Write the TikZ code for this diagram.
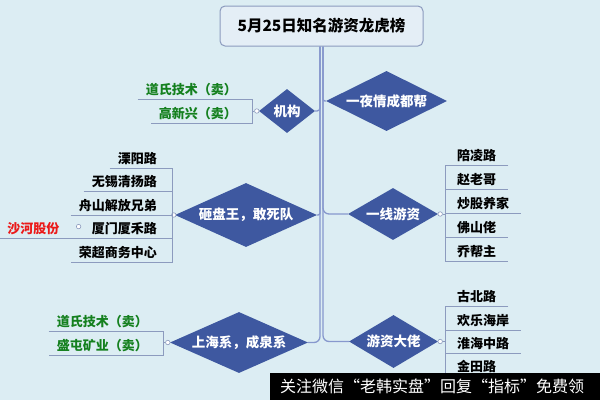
\documentclass[tikz,border=0pt]{standalone}
\usepackage{fontspec}
\setmainfont{Noto Sans CJK SC}
\usepackage{tikz}
\usetikzlibrary{shapes.geometric,positioning}
\definecolor{bgc}{RGB}{220,237,243}
\definecolor{headfill}{RGB}{228,238,246}
\definecolor{rim}{RGB}{140,155,190}
\definecolor{stem}{RGB}{135,152,205}
\definecolor{diafill}{RGB}{62,88,160}
\definecolor{sell}{RGB}{20,128,30}
\definecolor{hot}{RGB}{235,25,25}
\tikzset{
  head/.style={draw=rim,fill=headfill,rounded corners=5pt,line width=1pt,
    minimum width=203pt,minimum height=40pt,font=\bfseries\fontsize{15.5}{16}\selectfont},
  dia/.style={diamond,fill=diafill,text=white,inner sep=0pt,shape aspect=2.2,
    font=\bfseries\fontsize{13.5}{14}\selectfont},
  kid/.style={font=\bfseries\fontsize{13}{14}\selectfont,inner xsep=8pt,inner ysep=4.4pt,
    text height=14.7pt,text depth=0pt},
  rkid/.style={kid,anchor=south west,inner xsep=12pt},
  lkid/.style={kid,anchor=south east,execute at end node={\hspace*{7pt}}},
  stemline/.style={draw=stem,line width=1.3pt,rounded corners=6pt},
  twig/.style={draw=rim,line width=0.9pt},
  knob/.style={circle,draw=rim,fill=white,line width=0.6pt,inner sep=0pt,minimum size=4.5pt},
  wm/.style={fill=black,text=white,anchor=north west,minimum width=330pt,minimum height=27pt,
    text width=310pt,inner xsep=10pt,align=left,font=\fontsize{16}{17}\selectfont},
}
\begin{document}
\begin{tikzpicture}[x=1pt,y=-1pt]
  \useasboundingbox (0,0) rectangle (600,400);
  \fill[bgc] (0,0) rectangle (600,400);
  \node[head] (ttl) at (321.5,26) {5月25日知名游资龙虎榜};
  % main topics
  \node[dia,minimum width=56pt,minimum height=44pt] (jg) at (287,111) {机构};
  \node[dia,minimum width=142pt,minimum height=64pt] (zp) at (246,215) {砸盘王，敢死队};
  \node[dia,minimum width=138pt,minimum height=61pt] (sh) at (239,342.5) {上海系，成泉系};
  \node[dia,minimum width=121pt,minimum height=60pt] (yy) at (386.5,101) {一夜情成都帮};
  \node[dia,minimum width=90pt,minimum height=52pt] (yx) at (393,214) {一线游资};
  \node[dia,minimum width=89pt,minimum height=53pt] (dl) at (393.5,341.5) {游资大佬};
  \draw[stemline,rounded corners=3pt] ([xshift=-1.5pt]ttl.south) |- (jg.east);
  \draw[stemline,rounded corners=2pt] ([xshift=-1.5pt]ttl.south) |- (zp.east);
  \draw[stemline] ([xshift=-1.5pt]ttl.south) |- (sh.east);
  \draw[stemline,rounded corners=2pt] ([xshift=1.5pt]ttl.south) |- (yy.west);
  \draw[stemline] ([xshift=1.5pt]ttl.south) |- (yx.west);
  \draw[stemline] ([xshift=1.5pt]ttl.south) |- (dl.west);
  % subtopics, left
  \node[lkid,text=sell] (jg1) at (252,99) {道氏技术（卖）};
  \node[lkid,text=sell] (jg2) at (252,123) {高新兴（卖）};
  \node[lkid] (zp1) at (172,168) {溧阳路};
  \node[lkid] (zp2) at (172,191.5) {无锡清扬路};
  \node[lkid] (zp3) at (172,215) {舟山解放兄弟};
  \node[lkid] (zp4) at (172,238.5) {厦门厦禾路};
  \node[lkid] (zp5) at (172,262) {荣超商务中心};
  \node[lkid,text=hot] (shh) at ([xshift=-9pt]zp4.south west) {沙河股份};
  \node[lkid,text=sell] (sh1) at (163,331) {道氏技术（卖）};
  \node[lkid,text=sell] (sh2) at (163,355) {盛屯矿业（卖）};
  % subtopics, right
  \node[rkid] (yx1) at (445,165) {陪凌路};
  \node[rkid] (yx2) at (445,189) {赵老哥};
  \node[rkid] (yx3) at (445,213) {炒股养家};
  \node[rkid] (yx4) at (445,237) {佛山佬};
  \node[rkid] (yx5) at (445,261) {乔帮主};
  \node[rkid] (dl1) at (445,306) {古北路};
  \node[rkid] (dl2) at (445,330) {欢乐海岸};
  \node[rkid] (dl3) at (445,353) {淮海中路};
  \node[rkid] (dl4) at (445,376.5) {金田路};
  % collapse knobs
  \node[knob] (kjg) at ([xshift=-2pt]jg.west) {};
  \node[knob] (kzp) at ([xshift=-1pt]zp.west) {};
  \node[knob] (ksh) at ([xshift=-2pt]sh.west) {};
  \node[knob] (kxm) at ([xshift=-5pt]zp4.west) {};
  \node[knob] (kyx) at ([xshift=2pt]yx.east) {};
  \node[knob] (kdl) at ([xshift=2pt]dl.east) {};
  % underlines
  \draw[twig] (jg1.south west) -- (jg1.south east) -- (jg2.south east) -- (jg2.south west);
  \draw[twig] (kjg) -- (kjg -| jg1.south east);
  \draw[twig] (zp1.south west) -- (zp1.south east) -- (zp5.south east) -- (zp5.south west);
  \draw[twig] (zp2.south west) -- (zp2.south east) (zp3.south west) -- (zp3.south east)
    (shh.south west) -- (zp4.south east);
  \draw[twig] (sh1.south west) -- (sh1.south east) -- (sh2.south east) -- (sh2.south west);
  \draw[twig] (ksh) -- (ksh -| sh1.south east);
  \draw[twig] (yx1.south east) -- (yx1.south west) -- (yx5.south west) -- (yx5.south east);
  \draw[twig] (yx2.south west) -- (yx2.south east) (yx3.south west) -- (yx3.south east)
    (yx4.south west) -- (yx4.south east);
  \draw[twig] (kyx) -- (kyx -| yx1.south west);
  \draw[twig] (dl1.south east) -- (dl1.south west) -- (dl4.south west) -- (dl4.south east);
  \draw[twig] (dl2.south west) -- (dl2.south east) (dl3.south west) -- (dl3.south east);
  \draw[twig] (kdl) -- (kdl -| dl1.south west);
  \node[wm] (ad) at (270,373) {关注微信“老韩实盘”回复“指标”免费领};
\end{tikzpicture}
\end{document}
